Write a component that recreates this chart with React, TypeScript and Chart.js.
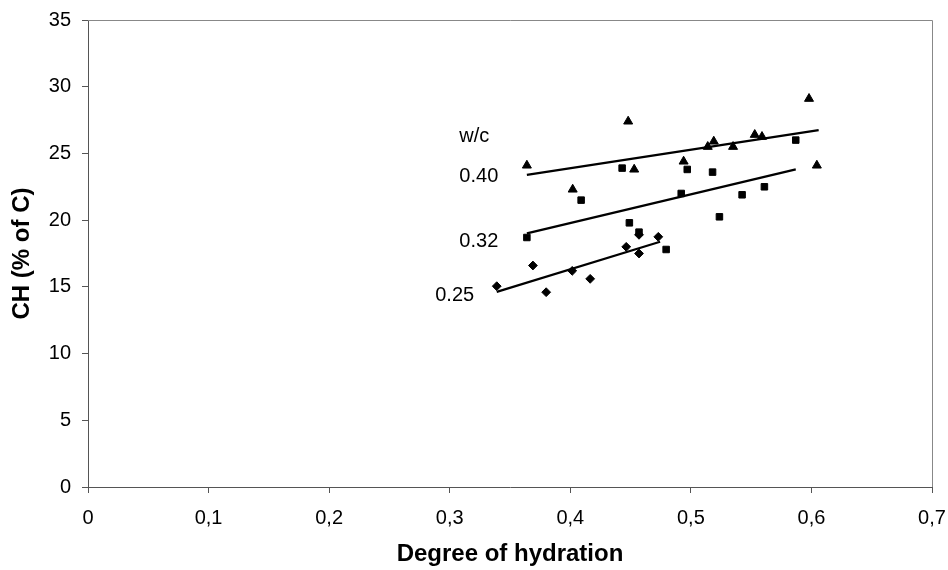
import React, { useEffect, useRef } from 'react';
import { Chart, registerables } from 'chart.js';

Chart.register(...registerables);

// w/c 0.40 (triangles)
const wc040X = [0.364, 0.402, 0.448, 0.453, 0.494, 0.514, 0.519, 0.535, 0.553, 0.559, 0.598, 0.6045];
const wc040Y = [24.1, 22.3, 27.4, 23.8, 24.4, 25.5, 25.9, 25.5, 26.4, 26.25, 29.1, 24.1];
// w/c 0.32 (squares)
const wc032X = [0.364, 0.409, 0.443, 0.449, 0.457, 0.4795, 0.492, 0.497, 0.518, 0.5237, 0.5425, 0.561, 0.587];
const wc032Y = [18.7, 21.5, 23.9, 19.8, 19.1, 17.8, 22.0, 23.8, 23.6, 20.25, 21.9, 22.5, 26.0];
// w/c 0.25 (diamonds)
const wc025X = [0.339, 0.369, 0.38, 0.4016, 0.4165, 0.4464, 0.457, 0.457, 0.473];
const wc025Y = [15.05, 16.6, 14.6, 16.2, 15.6, 18.0, 18.9, 17.5, 18.75];

// trend lines (end points)
const trend040X = [0.364, 0.606];
const trend040Y = [23.4, 26.75];
const trend032X = [0.364, 0.587];
const trend032Y = [19.0, 23.8];
const trend025X = [0.339, 0.4745];
const trend025Y = [14.63, 18.38];

// text labels inside the plot
const labelTexts = ['w/c', '0.40', '0.32', '0.25'];
const labelX = [0.308, 0.308, 0.308, 0.288];
const labelY = [26.3, 23.25, 18.4, 14.38];

const xTicks = [0, 0.1, 0.2, 0.3, 0.4, 0.5, 0.6, 0.7];
const yTicks = [0, 5, 10, 15, 20, 25, 30, 35];

const FONT = 'Arial, "Liberation Sans", sans-serif';
const AXIS = '#555555';
const BORDER = '#888888';

const zip = (xs: number[], ys: number[]) => xs.map((x, i) => ({ x, y: ys[i] }));

const extrasPlugin = {
  id: 'extras',
  afterDatasetsDraw(chart: any) {
    const { ctx, chartArea, scales } = chart;
    ctx.save();
    ctx.strokeStyle = BORDER;
    ctx.lineWidth = 1;
    ctx.beginPath();
    ctx.moveTo(chartArea.left, chartArea.top + 0.5);
    ctx.lineTo(chartArea.right + 0.5, chartArea.top + 0.5);
    ctx.lineTo(chartArea.right + 0.5, chartArea.bottom);
    ctx.stroke();
    ctx.fillStyle = '#000';
    ctx.font = `20px ${FONT}`;
    ctx.textAlign = 'left';
    ctx.textBaseline = 'middle';
    labelTexts.forEach((t, i) => {
      ctx.fillText(t, scales.x.getPixelForValue(labelX[i]), scales.y.getPixelForValue(labelY[i]));
    });
    ctx.restore();
  },
};

export default function App() {
  const ref = useRef<HTMLCanvasElement | null>(null);
  useEffect(() => {
    document.body.style.margin = '0';
    const canvas = ref.current;
    if (!canvas) return;
    const lineDs = (xs: number[], ys: number[]) => ({
      type: 'line' as const,
      data: zip(xs, ys),
      showLine: true,
      borderColor: '#000',
      borderWidth: 2.3,
      pointRadius: 0,
      fill: false,
    });
    const chart = new Chart(canvas, {
      type: 'scatter',
      data: {
        datasets: [
          lineDs(trend040X, trend040Y),
          lineDs(trend032X, trend032Y),
          lineDs(trend025X, trend025Y),
          {
            data: zip(wc040X, wc040Y),
            pointStyle: 'triangle',
            pointRadius: 5.2,
            backgroundColor: '#000',
            borderColor: '#000',
            borderWidth: 1,
          },
          {
            data: zip(wc032X, wc032Y),
            pointStyle: 'rect',
            pointRadius: 4.6,
            backgroundColor: '#000',
            borderColor: '#000',
            borderWidth: 1,
          },
          {
            data: zip(wc025X, wc025Y),
            pointStyle: 'rectRot',
            pointRadius: 4.4,
            backgroundColor: '#000',
            borderColor: '#000',
            borderWidth: 1,
          },
        ] as any,
      },
      options: {
        animation: false,
        responsive: false,
        events: [],
        layout: { padding: { left: 0, right: 16, top: 20, bottom: 0 } },
        plugins: { legend: { display: false }, tooltip: { enabled: false } },
        scales: {
          x: {
            type: 'linear',
            min: 0,
            max: 0.7,
            afterBuildTicks: (scale: any) => {
              scale.ticks = xTicks.map((v) => ({ value: v }));
            },
            afterFit: (scale: any) => {
              scale.height = 83;
              scale.paddingLeft = 0;
              scale.paddingRight = 0;
            },
            grid: { display: true, drawOnChartArea: false, drawTicks: true, tickLength: 6, color: AXIS },
            border: { display: true, color: AXIS, width: 1 },
            ticks: {
              autoSkip: false,
              maxRotation: 0,
              padding: 13,
              color: '#000',
              font: { family: FONT, size: 20 },
              callback: (v: any) => (Number(v) === 0 ? '0' : Number(v).toFixed(1).replace('.', ',')),
            },
            title: {
              display: true,
              text: 'Degree of hydration',
              color: '#000',
              font: { family: FONT, size: 24, weight: 'bold' },
              padding: { top: 0, bottom: 1 },
            },
          },
          y: {
            type: 'linear',
            min: 0,
            max: 35,
            afterBuildTicks: (scale: any) => {
              scale.ticks = yTicks.map((v) => ({ value: v }));
            },
            afterFit: (scale: any) => {
              scale.width = 88;
              scale.paddingTop = 0;
              scale.paddingBottom = 0;
            },
            grid: { display: true, drawOnChartArea: false, drawTicks: true, tickLength: 6, color: AXIS },
            border: { display: true, color: AXIS, width: 1 },
            ticks: {
              autoSkip: false,
              padding: 11,
              color: '#000',
              font: { family: FONT, size: 20 },
            },
            title: {
              display: true,
              text: 'CH (% of C)',
              color: '#000',
              font: { family: FONT, size: 24, weight: 'bold' },
              padding: { top: 8, bottom: 0 },
            },
          },
        },
      },
      plugins: [extrasPlugin],
    } as any);
    return () => chart.destroy();
  }, []);
  return (
    <div style={{ width: 948, height: 570, background: '#fff' }}>
      <canvas ref={ref} width={948} height={570} style={{ display: 'block' }} />
    </div>
  );
}
